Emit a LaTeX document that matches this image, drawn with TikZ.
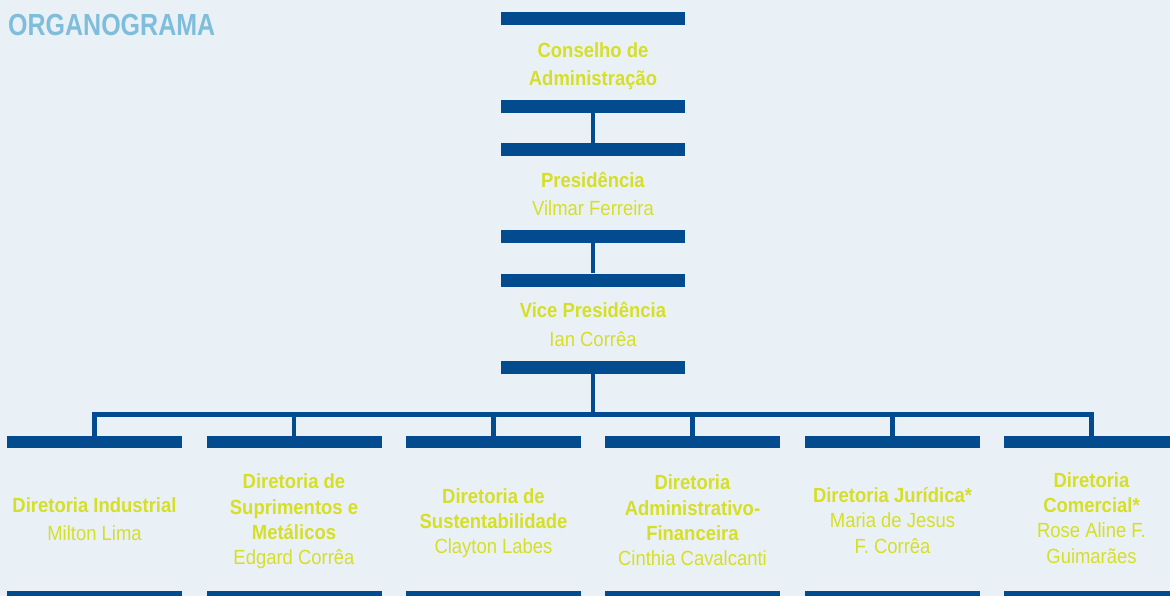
\documentclass[tikz,border=0pt]{standalone}
\usepackage{fontspec}
\setmainfont{Liberation Sans}[FakeStretch=0.9]
\newfontfamily\titlefont{Liberation Sans}[FakeStretch=0.82]
\definecolor{bg}{HTML}{EAF1F6}
\definecolor{barblue}{HTML}{014B8E}
\definecolor{lime}{HTML}{D6DF26}
\definecolor{sky}{HTML}{7FBDDC}
\tikzset{
  topbar/.style={fill=barblue, inner sep=0pt, minimum width=184pt, minimum height=13pt},
  lowbar/.style={fill=barblue, inner sep=0pt, minimum width=175pt, minimum height=12pt},
  link/.style={draw=barblue, line width=4.6pt},
  toptext/.style={text=lime, align=center, inner sep=0pt, font=\fontsize{20.5}{28.5}\selectfont},
  lowtext/.style={text=lime, align=center, inner sep=0pt, font=\fontsize{20.5}{25.3}\selectfont},
}

\begin{document}
\begin{tikzpicture}[x=1pt,y=1pt,yscale=-1]
\path[use as bounding box, fill=bg] (0,0) rectangle (1170,596);
\node[anchor=base west, inner sep=0pt, text=sky, font=\titlefont\bfseries\fontsize{30.5}{30.5}\selectfont] (title) at (8,36) {ORGANOGRAMA};

\node[topbar] (t1) at (593,18.5) {};
\node[topbar] (t2) at (593,106.5) {};
\node[topbar] (t3) at (593,149.5) {};
\node[topbar] (t4) at (593,236.5) {};
\node[topbar] (t5) at (593,280) {};
\node[topbar] (t6) at (593,367.5) {};
\node[toptext] (cons) at (593,66) {\textbf{Conselho de}\\\textbf{Administração}};
\node[toptext] (pres) at (593,194) {\textbf{Presidência}\\Vilmar Ferreira};
\node[toptext] (vice) at (593,324.5) {\textbf{Vice Presidência}\\Ian Corrêa};
\path[link] (t2) edge (t3);
\path[link] (t4) edge (t5);

\node[lowbar] (d1) at (94.5,442) {};
\node[lowbar] (d2) at (294,442) {};
\node[lowbar] (d3) at (493.5,442) {};
\node[lowbar] (d4) at (692.5,442) {};
\node[lowbar] (d5) at (892.5,442) {};
\node[lowbar] (d6) at (1091.5,442) {};
\node[lowbar] (e1) at (94.5,597) {};
\node[lowbar] (e2) at (294,597) {};
\node[lowbar] (e3) at (493.5,597) {};
\node[lowbar] (e4) at (692.5,597) {};
\node[lowbar] (e5) at (892.5,597) {};
\node[lowbar] (e6) at (1091.5,597) {};

\node[lowtext, font=\fontsize{20.5}{28.5}\selectfont] (ind) at (94.5,519) {\textbf{Diretoria Industrial}\\Milton Lima};
\node[lowtext] (sup) at (294,521.5) {\textbf{Diretoria de}\\\textbf{Suprimentos e}\\\textbf{Metálicos}\\Edgard Corrêa};
\node[lowtext] (sus) at (493.5,523) {\textbf{Diretoria de}\\\textbf{Sustentabilidade}\\Clayton Labes};
\node[lowtext] (adm) at (692.5,520.5) {\textbf{Diretoria}\\\textbf{Administrativo-}\\\textbf{Financeira}\\Cinthia Cavalcanti};
\node[lowtext] (jur) at (892.5,520.5) {\textbf{Diretoria Jurídica*}\\Maria de Jesus\\F. Corrêa};
\node[lowtext] (com) at (1091.5,518) {\textbf{Diretoria}\\\textbf{Comercial*}\\Rose Aline F.\\Guimarães};

\coordinate (h) at (593,414.5);
\draw[link] (d1) |- (h) -| (d6);
\path[link] (t6) edge (h);
\path[link] (d2) edge (d2 |- h);
\path[link] (d3) edge (d3 |- h);
\path[link] (d4) edge (d4 |- h);
\path[link] (d5) edge (d5 |- h);
\end{tikzpicture}
\end{document}
